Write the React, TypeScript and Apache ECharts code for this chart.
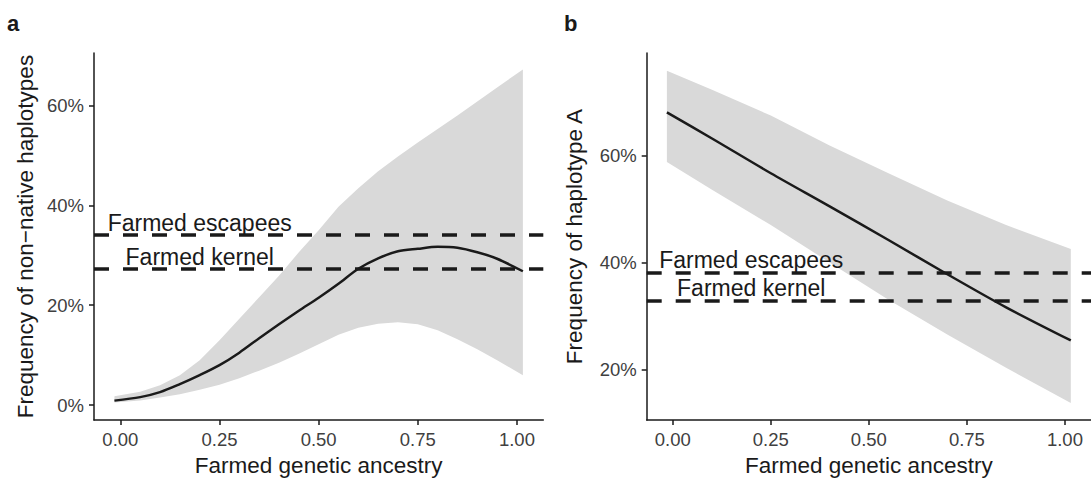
import React, { useEffect, useRef } from "react";
import * as echarts from "echarts";

// ---- Panel a: Frequency of non-native haplotypes ----
const xA = [-0.015, 0.05, 0.1, 0.15, 0.2, 0.25, 0.3, 0.35, 0.4, 0.45, 0.5, 0.55, 0.6, 0.65, 0.7, 0.75, 0.8, 0.85, 0.9, 0.95, 1.015];
const lineA = [0.9, 1.6, 2.6, 4.2, 6.0, 8.0, 10.5, 13.4, 16.2, 18.9, 21.5, 24.3, 27.3, 29.4, 30.8, 31.3, 31.7, 31.5, 30.6, 29.3, 26.8];
const upperA = [1.8, 2.7, 4.0, 6.0, 9.0, 13.0, 17.3, 21.6, 25.9, 30.6, 35.0, 39.7, 43.4, 46.8, 49.8, 52.6, 55.3, 58.0, 60.8, 63.6, 67.2];
const lowerA = [0.5, 0.9, 1.5, 2.2, 3.1, 4.1, 5.4, 6.9, 8.5, 10.3, 12.2, 14.1, 15.5, 16.3, 16.6, 16.2, 15.0, 13.2, 11.2, 9.0, 6.0];
const hlinesA = [34.1, 27.3];

// ---- Panel b: Frequency of haplotype A ----
const xB = [-0.015, 0.1, 0.25, 0.4, 0.55, 0.7, 0.85, 1.015];
const lineB = [68.1, 63.2, 56.7, 50.5, 44.2, 37.8, 31.6, 25.4];
const upperB = [75.9, 72.3, 67.5, 61.9, 56.7, 51.6, 47.0, 42.5];
const lowerB = [58.8, 53.6, 47.0, 40.0, 33.0, 26.5, 20.3, 13.7];
const hlinesB = [38.1, 32.9];

const hlineLabels = ["Farmed escapees", "Farmed kernel"];
const labelX = 0.2;
const labelOffset = 2.3;

const xTicks = [0, 0.25, 0.5, 0.75, 1];
const yTicksA = [0, 20, 40, 60];
const yTicksB = [20, 40, 60];

const FONT = "'Liberation Sans', Arial, Helvetica, sans-serif";
const INK = "#1a1a1a";
const TICK = "#404040";
const BAND = "#d9d9d9";

function pairs(xs: number[], ys: number[]) {
  return xs.map((x, i) => [x, ys[i]]);
}

function xAxisCfg(gridIndex: number) {
  return {
    type: "value",
    gridIndex,
    min: -0.0665,
    max: 1.0665,
    name: "Farmed genetic ancestry",
    nameLocation: "middle",
    nameGap: 33,
    nameTextStyle: { fontFamily: FONT, fontSize: 22.5, color: INK },
    axisLine: { show: true, onZero: false, lineStyle: { color: INK, width: 1.5 } },
    axisTick: { show: true, length: 5, customValues: xTicks, lineStyle: { color: INK, width: 1.5 } },
    axisLabel: {
      customValues: xTicks,
      margin: 10,
      fontFamily: FONT,
      fontSize: 18.5,
      color: TICK,
      formatter: (v: number) => v.toFixed(2),
    },
    splitLine: { show: false },
  };
}

function yAxisCfg(gridIndex: number, min: number, max: number, ticks: number[], name: string, gap: number) {
  return {
    type: "value",
    gridIndex,
    min,
    max,
    name,
    nameLocation: "middle",
    nameGap: gap,
    nameRotate: 90,
    nameTextStyle: { fontFamily: FONT, fontSize: 22.5, color: INK },
    axisLine: { show: true, onZero: false, lineStyle: { color: INK, width: 1.5 } },
    axisTick: { show: true, length: 5, customValues: ticks, lineStyle: { color: INK, width: 1.5 } },
    axisLabel: {
      customValues: ticks,
      margin: 10,
      fontFamily: FONT,
      fontSize: 18.5,
      color: TICK,
      formatter: (v: number) => `${v}%`,
    },
    splitLine: { show: false },
  };
}

function panelSeries(idx: number, xs: number[], mid: number[], up: number[], lo: number[], hl: number[]) {
  return [
    {
      type: "custom",
      xAxisIndex: idx,
      yAxisIndex: idx,
      silent: true,
      z: 1,
      data: [[xs[0], up[0]]],
      encode: { x: 0, y: 1 },
      renderItem: (_params: any, api: any) => {
        const top = xs.map((x, i) => api.coord([x, up[i]]));
        const bottom = xs.map((x, i) => api.coord([x, lo[i]])).reverse();
        return {
          type: "polygon",
          shape: { points: top.concat(bottom) },
          style: { fill: BAND, stroke: "none" },
        };
      },
    },
    {
      type: "line",
      xAxisIndex: idx,
      yAxisIndex: idx,
      data: pairs(xs, mid),
      symbol: "none",
      smooth: 0.3,
      lineStyle: { color: INK, width: 2.5 },
      silent: true,
      z: 5,
      markLine: {
        silent: true,
        symbol: "none",
        label: { show: false },
        lineStyle: { color: INK, width: 3.5, type: [15, 14], opacity: 1 },
        data: hl.map((v) => ({ yAxis: v })),
      },
    },
    {
      type: "scatter",
      xAxisIndex: idx,
      yAxisIndex: idx,
      symbolSize: 0,
      silent: true,
      z: 6,
      itemStyle: { opacity: 1 },
      data: hl.map((v, i) => ({ name: hlineLabels[i], value: [labelX, v + labelOffset] })),
      label: {
        show: true,
        position: "inside",
        formatter: (p: any) => p.name,
        fontFamily: FONT,
        fontSize: 23,
        color: INK,
        opacity: 1,
      },
    },
  ];
}

export default function App() {
  const ref = useRef<HTMLDivElement>(null);

  useEffect(() => {
    document.body.style.margin = "0";
    if (!ref.current) return;
    const chart = echarts.init(ref.current, undefined, { renderer: "svg" });
    chart.setOption({
      animation: false,
      backgroundColor: "#ffffff",
      grid: [
        { left: 94, top: 53, width: 449.3, height: 371 },
        { left: 646.7, top: 53, width: 449, height: 371 },
      ],
      xAxis: [xAxisCfg(0), xAxisCfg(1)],
      yAxis: [
        yAxisCfg(0, -3, 70.5, yTicksA, "Frequency of non\u2212native haplotypes", 57),
        yAxisCfg(1, 10.5, 79.2, yTicksB, "Frequency of haplotype A", 61),
      ],
      graphic: [
        { type: "text", left: 7, top: 12, style: { text: "a", fontFamily: FONT, fontSize: 22, fontWeight: "bold", fill: INK } },
        { type: "text", left: 564, top: 12, style: { text: "b", fontFamily: FONT, fontSize: 22, fontWeight: "bold", fill: INK } },
      ],
      series: [
        ...panelSeries(0, xA, lineA, upperA, lowerA, hlinesA),
        ...panelSeries(1, xB, lineB, upperB, lowerB, hlinesB),
      ],
    });
    return () => chart.dispose();
  }, []);

  return <div ref={ref} style={{ width: 1091, height: 482 }} />;
}
